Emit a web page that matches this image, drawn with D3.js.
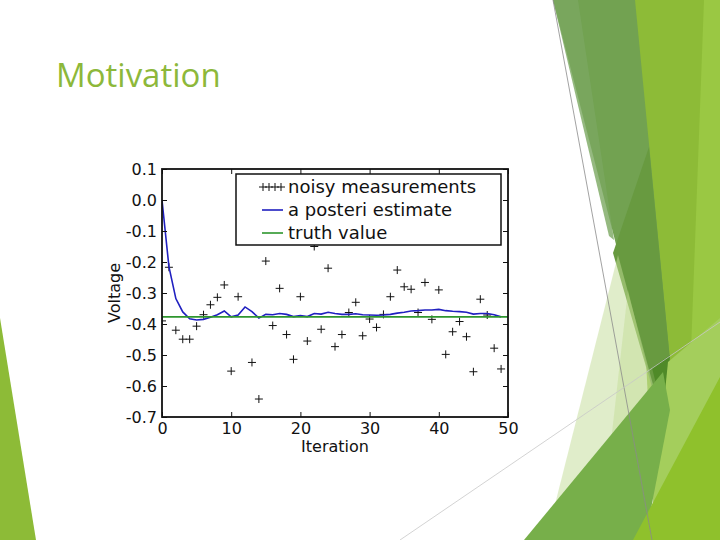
<!DOCTYPE html>
<html>
<head>
<meta charset="utf-8">
<script src="https://cdn.jsdelivr.net/npm/d3@7"></script>
<style>
  html, body { margin: 0; padding: 0; background: #fff; }
  svg { display: block; }
</style>
</head>
<body>
<svg id="chart" width="720" height="540"></svg>
<script>
// ---------- data ----------
const measurements = [
  -0.390, -0.217, -0.420, -0.449, -0.449, -0.407, -0.370, -0.338, -0.314, -0.274,
  -0.552, -0.312, -0.050, -0.524, -0.642, -0.197, -0.405, -0.285, -0.434, -0.514,
  -0.312, -0.455, -0.150, -0.417, -0.220, -0.473, -0.434, -0.363, -0.330, -0.438,
  -0.384, -0.411, -0.369, -0.312, -0.226, -0.280, -0.288, -0.363, -0.266, -0.385,
  -0.290, -0.498, -0.425, -0.392, -0.441, -0.554, -0.320, -0.371, -0.478, -0.545
];
const estimates = [
   0.000, -0.215, -0.318, -0.361, -0.383, -0.387, -0.385, -0.378, -0.370, -0.358,
  -0.377, -0.371, -0.345, -0.360, -0.381, -0.369, -0.370, -0.366, -0.369, -0.376,
  -0.373, -0.376, -0.366, -0.368, -0.362, -0.366, -0.369, -0.369, -0.367, -0.370,
  -0.371, -0.372, -0.371, -0.369, -0.365, -0.362, -0.358, -0.357, -0.355, -0.355,
  -0.353, -0.357, -0.359, -0.360, -0.362, -0.368, -0.366, -0.366, -0.370, -0.377
];
const truthValue = -0.377;
const xTicks = [0, 10, 20, 30, 40, 50];
const yTicks = [0.1, 0.0, -0.1, -0.2, -0.3, -0.4, -0.5, -0.6, -0.7];
const yTickLabels = ["0.1", "0.0", "-0.1", "-0.2", "-0.3", "-0.4", "-0.5", "-0.6", "-0.7"];
const legendLabels = ["noisy measurements", "a posteri estimate", "truth value"];
const titleText = "Motivation";
const xLabel = "Iteration";
const yLabel = "Voltage";

// ---------- setup ----------
const svg = d3.select("#chart");
svg.append("rect").attr("width", 720).attr("height", 540).attr("fill", "#fff");

// decorative slide background (theme shapes)
const deco = svg.append("g");
const poly = (pts, fill, op) => deco.append("polygon")
  .attr("points", pts.map(p => p.join(",")).join(" "))
  .attr("fill", fill).attr("fill-opacity", op == null ? 1 : op);
poly([[628,0],[720,0],[720,540],[655,540]], "#8dbb37");
poly([[704,0],[720,0],[720,540],[684,540]], "#9ac843");
poly([[553,0],[635,0],[670,360],[660,415]], "#72a251");
poly([[553,0],[578,0],[614,240],[609,236]], "#7aa860", 0.8);
poly([[649,147],[670,360],[660,415],[613,253]], "#689a40");
poly([[652,368],[670,355],[663,412]], "#4f8a28");
poly([[618,255],[546,540],[695,540]], "#c2dc95", 0.5);
poly([[628,290],[655,400],[662,430],[640,540],[600,540]], "#b7d684", 0.35);
poly([[668,362],[720,318],[720,540],[650,540]], "#a4ce5c");
poly([[524,540],[663,372],[670,410],[645,540]], "#77af4a");
poly([[633,540],[720,377],[720,540]], "#8fc12c");
poly([[0,318],[0,540],[36,540]], "#8dbb37");
deco.append("line").attr("x1", 553).attr("y1", 0).attr("x2", 652).attr("y2", 540)
  .attr("stroke", "#8a8a8a").attr("stroke-width", 0.8);
deco.append("line").attr("x1", 400).attr("y1", 540).attr("x2", 720).attr("y2", 322)
  .attr("stroke", "#c8c8c8").attr("stroke-width", 0.8);

// title
svg.append("text").attr("x", 56).attr("y", 87)
  .attr("font-family", "'Open Sans', sans-serif").attr("font-size", 33)
  .attr("fill", "#8db83a").text(titleText);

// ---------- chart ----------
const x = d3.scaleLinear().domain([0, 50]).range([162, 508]);
const y = d3.scaleLinear().domain([-0.7, 0.1]).range([417, 169]);
const font = "'DejaVu Sans', sans-serif";

svg.append("rect").attr("x", 162).attr("y", 169).attr("width", 346).attr("height", 248)
  .attr("fill", "#fff");

const defs = svg.append("defs");
defs.append("clipPath").attr("id", "plotclip").append("rect")
  .attr("x", 162).attr("y", 169).attr("width", 346).attr("height", 248);

const plot = svg.append("g").attr("clip-path", "url(#plotclip)");

// measurements '+'
const ms = 4;
plot.append("g").selectAll("path").data(measurements).join("path")
  .attr("d", (d, i) => {
    const cx = x(i), cy = y(d);
    return `M${cx - ms},${cy}H${cx + ms}M${cx},${cy - ms}V${cy + ms}`;
  })
  .attr("stroke", "#111").attr("stroke-width", 1).attr("fill", "none");

// estimate line
plot.append("path").datum(estimates)
  .attr("d", d3.line().x((d, i) => x(i)).y(d => y(d)))
  .attr("fill", "none").attr("stroke", "#2020c0").attr("stroke-width", 1.6);

// truth line
plot.append("line")
  .attr("x1", x(0)).attr("x2", x(50)).attr("y1", y(truthValue)).attr("y2", y(truthValue))
  .attr("stroke", "#2e962e").attr("stroke-width", 1.6);

// axes
const styleAxis = g => {
  g.select(".domain").remove();
  g.selectAll(".tick line").attr("stroke", "#111").attr("stroke-width", 1);
  g.selectAll(".tick text").attr("font-family", font).attr("font-size", 16).attr("fill", "#111");
};
svg.append("g").attr("transform", "translate(162,0)")
  .call(d3.axisLeft(y).tickValues(yTicks).tickFormat((d, i) => yTickLabels[i])
    .tickSizeInner(-5).tickSizeOuter(0).tickPadding(5))
  .call(styleAxis);
svg.append("g").attr("transform", "translate(508,0)")
  .call(d3.axisRight(y).tickValues(yTicks).tickFormat("").tickSizeInner(-5).tickSizeOuter(0))
  .call(styleAxis);
svg.append("g").attr("transform", "translate(0,417)")
  .call(d3.axisBottom(x).tickValues(xTicks).tickFormat(d3.format("d"))
    .tickSizeInner(-5).tickSizeOuter(0).tickPadding(6))
  .call(styleAxis);
svg.append("g").attr("transform", "translate(0,169)")
  .call(d3.axisTop(x).tickValues(xTicks).tickFormat("").tickSizeInner(-5).tickSizeOuter(0))
  .call(styleAxis);

// frame
svg.append("rect").attr("x", 162).attr("y", 169).attr("width", 346).attr("height", 248)
  .attr("fill", "none").attr("stroke", "#111").attr("stroke-width", 1.8);

// axis labels
svg.append("text").attr("x", 335).attr("y", 452).attr("text-anchor", "middle")
  .attr("font-family", font).attr("font-size", 16).attr("fill", "#111").text(xLabel);
svg.append("text").attr("transform", "translate(120,293) rotate(-90)").attr("text-anchor", "middle")
  .attr("font-family", font).attr("font-size", 16).attr("fill", "#111").text(yLabel);

// legend
const lg = svg.append("g");
lg.append("rect").attr("x", 236).attr("y", 174).attr("width", 265).attr("height", 71)
  .attr("fill", "#fff").attr("stroke", "#111").attr("stroke-width", 1.5);
const rowsY = [187, 210, 233];
[263, 269, 275, 281].forEach(cx => {
  lg.append("path").attr("d", `M${cx - 4},${rowsY[0]}H${cx + 4}M${cx},${rowsY[0] - 4}V${rowsY[0] + 4}`)
    .attr("stroke", "#111").attr("stroke-width", 1).attr("fill", "none");
});
lg.append("line").attr("x1", 262).attr("x2", 283).attr("y1", rowsY[1]).attr("y2", rowsY[1])
  .attr("stroke", "#2020c0").attr("stroke-width", 1.6);
lg.append("line").attr("x1", 262).attr("x2", 283).attr("y1", rowsY[2]).attr("y2", rowsY[2])
  .attr("stroke", "#2e962e").attr("stroke-width", 1.6);
lg.selectAll("text.lbl").data(legendLabels).join("text").attr("class", "lbl")
  .attr("x", 288).attr("y", (d, i) => rowsY[i] + 6)
  .attr("font-family", font).attr("font-size", 18).attr("fill", "#111").text(d => d);
</script>
</body>
</html>
